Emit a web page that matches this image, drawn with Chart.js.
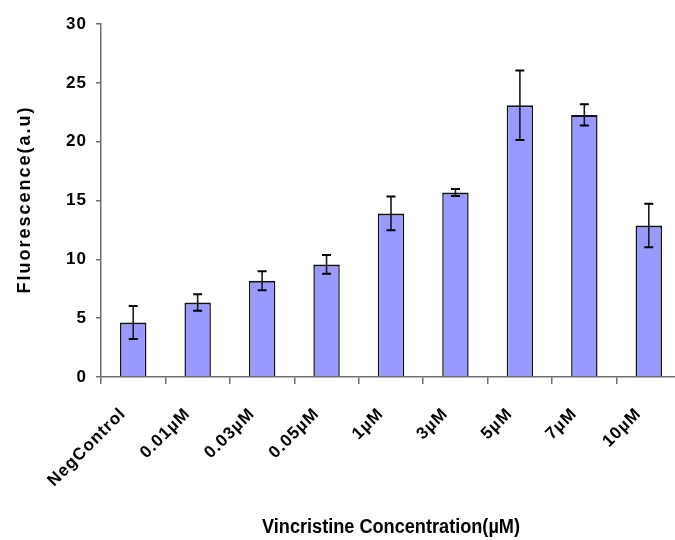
<!DOCTYPE html>
<html>
<head>
<meta charset="utf-8">
<script src="https://cdn.jsdelivr.net/npm/chart.js@4.4.1/dist/chart.umd.min.js"></script>
<style>
  html, body { margin: 0; padding: 0; background: #fff; overflow: hidden; }
  #wrap { width: 682px; height: 540px; }
</style>
</head>
<body>
<div id="wrap"><canvas id="c" width="682" height="540"></canvas></div>
<script>
const categories = ['NegControl', '0.01µM', '0.03µM', '0.05µM', '1µM', '3µM', '5µM', '7µM', '10µM'];
const values = [4.64, 6.34, 8.18, 9.57, 13.9, 15.68, 23.1, 22.27, 12.88];
const errors = [1.4, 0.7, 0.8, 0.8, 1.43, 0.3, 2.95, 0.9, 1.85];
const yTicks = [0, 5, 10, 15, 20, 25, 30];
const yTitle = 'Fluorescence(a.u)';
const xTitle = 'Vincristine Concentration(µM)';

const errorBars = {
  id: 'errorBars',
  afterDatasetsDraw(chart) {
    const ctx = chart.ctx;
    const meta = chart.getDatasetMeta(0);
    const ys = chart.scales.y;
    ctx.save();
    meta.data.forEach((bar, i) => {
      const x = bar.x;
      const yHi = ys.getPixelForValue(values[i] + errors[i]);
      const yLo = ys.getPixelForValue(values[i] - errors[i]);
      ctx.strokeStyle = '#1a1a1a';
      ctx.lineWidth = 1.6;
      ctx.beginPath();
      ctx.moveTo(x, yHi);
      ctx.lineTo(x, yLo);
      ctx.stroke();
      ctx.strokeStyle = '#000';
      ctx.lineWidth = 2;
      ctx.beginPath();
      ctx.moveTo(x - 4.5, yHi); ctx.lineTo(x + 4.5, yHi);
      ctx.moveTo(x - 4.5, yLo); ctx.lineTo(x + 4.5, yLo);
      ctx.stroke();
    });
    ctx.restore();
  }
};

const spacing = {
  id: 'spacing',
  beforeDraw(chart) { chart.ctx.letterSpacing = '1px'; },
  afterDraw(chart) {
    const ctx = chart.ctx;
    const area = chart.chartArea;
    ctx.save();
    ctx.fillStyle = '#000';
    ctx.textAlign = 'center';
    ctx.textBaseline = 'middle';
    ctx.letterSpacing = '2px';
    ctx.font = 'bold 18px "Liberation Sans", Arial, sans-serif';
    ctx.translate(25, (area.top + area.bottom) / 2);
    ctx.rotate(-Math.PI / 2);
    ctx.fillText(yTitle, 1, 0);
    ctx.restore();
    ctx.save();
    ctx.fillStyle = '#000';
    ctx.textAlign = 'center';
    ctx.textBaseline = 'middle';
    ctx.letterSpacing = '0px';
    ctx.font = 'bold 20px "Liberation Sans", Arial, sans-serif';
    const w = ctx.measureText(xTitle).width;
    const sx = 258 / w;
    ctx.translate((area.left + area.right) / 2, 527);
    ctx.scale(sx, 1);
    ctx.fillText(xTitle, 0, 0);
    ctx.restore();
  }
};

new Chart(document.getElementById('c'), {
  type: 'bar',
  data: {
    labels: categories,
    datasets: [{
      data: values,
      backgroundColor: '#9999FF',
      borderColor: '#111',
      borderWidth: { top: 2, left: 1.5, right: 1.5, bottom: 0 },
      borderSkipped: false,
      barPercentage: 0.41,
      categoryPercentage: 1.0
    }]
  },
  options: {
    responsive: false,
    animation: false,
    devicePixelRatio: 1,
    layout: { padding: { top: 24, right: 1, left: 0, bottom: 0 } },
    plugins: { legend: { display: false }, tooltip: { enabled: false } },
    scales: {
      x: {
        offset: true,
        grid: { display: true, drawOnChartArea: false, offset: true, tickLength: 7, color: '#6e6e6e', lineWidth: 1.5 },
        border: { display: true, color: '#6e6e6e', width: 1.5 },
        ticks: {
          autoSkip: false, minRotation: 45, maxRotation: 45, padding: 20, labelOffset: -10,
          color: '#000', font: { family: '"Liberation Sans", Arial, sans-serif', size: 17, weight: 'bold' }
        },
        afterFit(s) { s.height = 540 - 377; s.paddingLeft = 0; s.paddingRight = 0; }
      },
      y: {
        min: 0, max: 30,
        afterBuildTicks(s) { s.ticks = yTicks.map(v => ({ value: v })); },
        grid: { display: true, drawOnChartArea: false, tickLength: 5, color: '#6e6e6e', lineWidth: 1.5 },
        border: { display: true, color: '#6e6e6e', width: 1.5 },
        ticks: {
          padding: 9, color: '#000',
          font: { family: '"Liberation Sans", Arial, sans-serif', size: 17, weight: 'bold' }
        },
        afterFit(s) { s.width = 101; s.paddingTop = 0; s.paddingBottom = 0; }
      }
    }
  },
  plugins: [errorBars, spacing]
});
</script>
</body>
</html>
